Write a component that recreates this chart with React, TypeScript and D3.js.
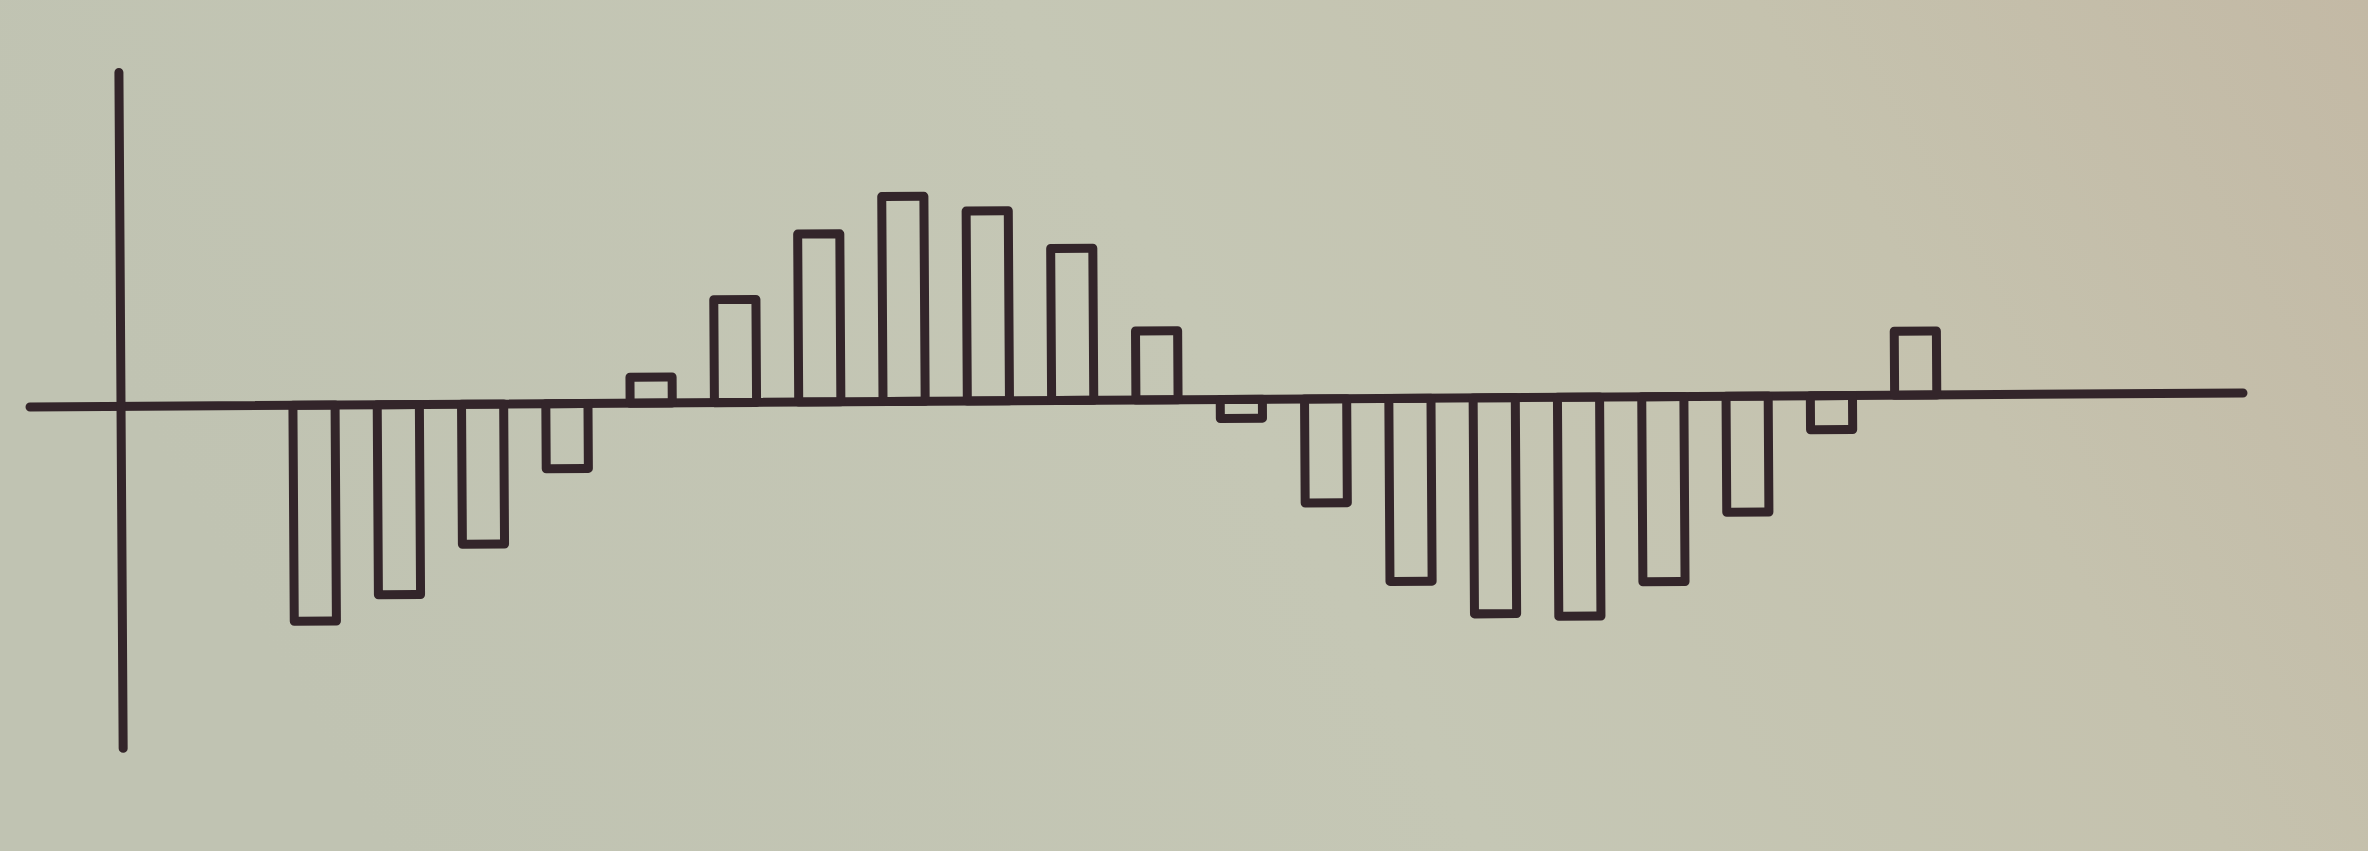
import React, { useEffect, useRef } from 'react'
import { select, scaleBand, scaleLinear } from 'd3'

// bar values (arbitrary units, baseline = 0)
const categories = ['1', '2', '3', '4', '5', '6', '7', '8', '9', '10',
  '11', '12', '13', '14', '15', '16', '17', '18', '19', '20']
const values = [-21.6, -19.0, -14.0, -6.5, 2.6, 10.3, 16.8, 20.5, 19.0, 15.2,
  6.9, -1.9, -10.4, -18.3, -21.6, -21.9, -18.5, -11.6, -3.4, 6.4]
// extent of the drawn y axis line
const yDomain = [-34.2, 33.4]

const W = 2368
const H = 851
const ink = '#33252a'

export default function App() {
  const ref = useRef(null)

  useEffect(() => {
    let svg = select(ref.current)
    svg.selectAll('*').remove()

    // paper background, greenish on the left, warmer to the right
    let defs = svg.append('defs')
    let grad = defs.append('linearGradient').attr('id', 'paper')
      .attr('x1', 0).attr('y1', 0.2).attr('x2', 1).attr('y2', 0)
    grad.append('stop').attr('offset', '0%').attr('stop-color', '#c0c3b2')
    grad.append('stop').attr('offset', '45%').attr('stop-color', '#c5c7b5')
    grad.append('stop').attr('offset', '75%').attr('stop-color', '#c5c2ae')
    grad.append('stop').attr('offset', '100%').attr('stop-color', '#c3b9a5')
    svg.append('rect').attr('width', W).attr('height', H).attr('fill', 'url(#paper)')

    let x = scaleBand().domain(categories).range([292.9, 1936.8])
      .paddingInner(0.5).paddingOuter(0)
    let y = scaleLinear().domain(yDomain).range([742, 66])

    // the printed page is slightly tilted in the photo
    let g = svg.append('g').attr('transform', `rotate(-0.36, 1136, ${y(0)})`)

    // axes
    g.append('line')
      .attr('x1', 30).attr('x2', 2243)
      .attr('y1', y(0)).attr('y2', y(0))
      .attr('stroke', ink).attr('stroke-width', 9).attr('stroke-linecap', 'round')
    g.append('line')
      .attr('x1', 121).attr('x2', 121)
      .attr('y1', y(yDomain[0])).attr('y2', y(yDomain[1]))
      .attr('stroke', ink).attr('stroke-width', 9).attr('stroke-linecap', 'round')

    // hollow bars
    g.selectAll('.bar').data(values).join('rect')
      .attr('class', 'bar')
      .attr('x', (d, i) => x(categories[i]))
      .attr('width', x.bandwidth())
      .attr('y', d => Math.min(y(d), y(0)))
      .attr('height', d => Math.abs(y(d) - y(0)))
      .attr('fill', 'none')
      .attr('stroke', ink)
      .attr('stroke-width', 9)
      .attr('stroke-linejoin', 'round')
  }, [])

  return (
    <svg ref={ref} width={W} height={H}
      style={{ position: 'absolute', left: 0, top: 0, display: 'block' }} />
  )
}
